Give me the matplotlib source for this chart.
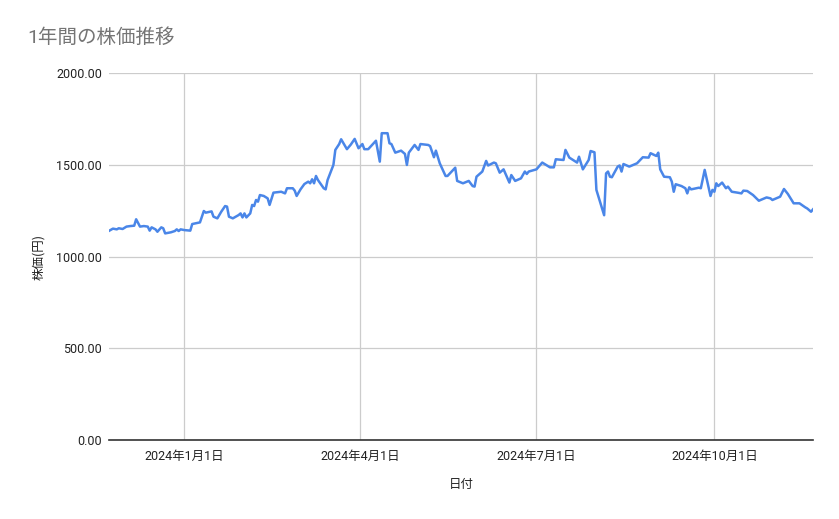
import matplotlib
matplotlib.use('Agg')
import matplotlib.pyplot as plt
import pandas as pd

plt.rcParams['font.family'] = ['Roboto', 'Noto Sans CJK JP', 'DejaVu Sans']

# values
dates = [
    "2023-11-23", "2023-11-25", "2023-11-27", "2023-11-28", "2023-11-30", "2023-12-02",
    "2023-12-04", "2023-12-06", "2023-12-07", "2023-12-09", "2023-12-11", "2023-12-13",
    "2023-12-14", "2023-12-15", "2023-12-17", "2023-12-18", "2023-12-20", "2023-12-21",
    "2023-12-22", "2023-12-25", "2023-12-27", "2023-12-28", "2023-12-29", "2023-12-30",
    "2024-01-01", "2024-01-04", "2024-01-05", "2024-01-09", "2024-01-11", "2024-01-12",
    "2024-01-15", "2024-01-16", "2024-01-18", "2024-01-20", "2024-01-22", "2024-01-23",
    "2024-01-24", "2024-01-26", "2024-01-29", "2024-01-30", "2024-01-31", "2024-02-01",
    "2024-02-02", "2024-02-04", "2024-02-05", "2024-02-06", "2024-02-07", "2024-02-08",
    "2024-02-09", "2024-02-11", "2024-02-13", "2024-02-14", "2024-02-16", "2024-02-20",
    "2024-02-22", "2024-02-23", "2024-02-26", "2024-02-27", "2024-02-28", "2024-03-01",
    "2024-03-03", "2024-03-05", "2024-03-06", "2024-03-07", "2024-03-08", "2024-03-09",
    "2024-03-10", "2024-03-13", "2024-03-14", "2024-03-15", "2024-03-18", "2024-03-19",
    "2024-03-21", "2024-03-22", "2024-03-25", "2024-03-27", "2024-03-29", "2024-03-31",
    "2024-04-02", "2024-04-03", "2024-04-05", "2024-04-09", "2024-04-11", "2024-04-12",
    "2024-04-15", "2024-04-16", "2024-04-17", "2024-04-19", "2024-04-22", "2024-04-24",
    "2024-04-25", "2024-04-26", "2024-04-29", "2024-05-01", "2024-05-02", "2024-05-06",
    "2024-05-07", "2024-05-09", "2024-05-10", "2024-05-12", "2024-05-15", "2024-05-16",
    "2024-05-20", "2024-05-21", "2024-05-24", "2024-05-27", "2024-05-29", "2024-05-30",
    "2024-05-31", "2024-06-03", "2024-06-05", "2024-06-06", "2024-06-09", "2024-06-10",
    "2024-06-12", "2024-06-14", "2024-06-17", "2024-06-18", "2024-06-20", "2024-06-23",
    "2024-06-25", "2024-06-26", "2024-06-27", "2024-07-01", "2024-07-04", "2024-07-08",
    "2024-07-10", "2024-07-11", "2024-07-15", "2024-07-16", "2024-07-18", "2024-07-22",
    "2024-07-23", "2024-07-25", "2024-07-28", "2024-07-29", "2024-07-31", "2024-08-01",
    "2024-08-05", "2024-08-06", "2024-08-07", "2024-08-08", "2024-08-09", "2024-08-12",
    "2024-08-13", "2024-08-14", "2024-08-15", "2024-08-18", "2024-08-22", "2024-08-25",
    "2024-08-28", "2024-08-29", "2024-09-01", "2024-09-02", "2024-09-03", "2024-09-05",
    "2024-09-08", "2024-09-09", "2024-09-10", "2024-09-11", "2024-09-14", "2024-09-16",
    "2024-09-17", "2024-09-18", "2024-09-19", "2024-09-23", "2024-09-24", "2024-09-26",
    "2024-09-29", "2024-09-30", "2024-10-01", "2024-10-02", "2024-10-03", "2024-10-05",
    "2024-10-07", "2024-10-08", "2024-10-10", "2024-10-13", "2024-10-15", "2024-10-16",
    "2024-10-18", "2024-10-21", "2024-10-24", "2024-10-28", "2024-10-30", "2024-10-31",
    "2024-11-04", "2024-11-06", "2024-11-08", "2024-11-11", "2024-11-14", "2024-11-17",
    "2024-11-18", "2024-11-20", "2024-11-21",
]
prices = [
    1140, 1152, 1148, 1154, 1150, 1163,
    1166, 1168, 1203, 1163, 1166, 1163,
    1141, 1159, 1148, 1135, 1159, 1154,
    1126, 1132, 1139, 1148, 1139, 1148,
    1144, 1141, 1177, 1186, 1248, 1239,
    1246, 1217, 1208, 1244, 1275, 1272,
    1217, 1208, 1226, 1235, 1213, 1235,
    1213, 1235, 1281, 1275, 1308, 1299,
    1335, 1330, 1317, 1281, 1348, 1353,
    1344, 1372, 1372, 1359, 1330, 1366,
    1395, 1408, 1399, 1421, 1399, 1439,
    1417, 1372, 1366, 1417, 1499, 1581,
    1613, 1639, 1585, 1610, 1641, 1590,
    1613, 1585, 1585, 1631, 1517, 1672,
    1672, 1617, 1613, 1566, 1577, 1559,
    1499, 1566, 1608, 1581, 1613, 1608,
    1602, 1541, 1577, 1508, 1439, 1439,
    1484, 1412, 1399, 1412, 1384, 1381,
    1435, 1463, 1521, 1496, 1512, 1508,
    1457, 1475, 1403, 1444, 1412, 1426,
    1463, 1450, 1463, 1475, 1512, 1486,
    1486, 1530, 1526, 1581, 1539, 1512,
    1544, 1475, 1526, 1575, 1568, 1363,
    1225, 1453, 1463, 1435, 1432, 1490,
    1496, 1463, 1504, 1490, 1508, 1541,
    1539, 1563, 1548, 1566, 1475, 1435,
    1432, 1408, 1353, 1394, 1384, 1372,
    1344, 1377, 1366, 1375, 1372, 1472,
    1330, 1363, 1353, 1399, 1384, 1403,
    1372, 1381, 1353, 1348, 1344, 1359,
    1357, 1335, 1304, 1322, 1317, 1308,
    1326, 1368, 1341, 1290, 1290, 1268,
    1262, 1244, 1257,
]
x_ticks = ["2024-01-01", "2024-04-01", "2024-07-01", "2024-10-01"]
x_tick_labels = ["2024年1月1日", "2024年4月1日", "2024年7月1日", "2024年10月1日"]
y_ticks = [0, 500, 1000, 1500, 2000]

df = pd.DataFrame({"date": pd.to_datetime(dates), "price": prices})

fig = plt.figure(figsize=(8.39, 5.19), dpi=100)
ax = fig.add_axes([0.130, 0.1522, 0.839, 0.7071])

ax.plot(df["date"], df["price"], color="#4a86e8", linewidth=1.8, zorder=3)

ax.set_xlim(df["date"].iloc[0], df["date"].iloc[-1])
ax.set_ylim(0, 2000)
ax.set_yticks(y_ticks)
ax.set_yticklabels([f"{v:.2f}" for v in y_ticks])
ax.set_xticks(pd.to_datetime(x_ticks))
ax.set_xticklabels(x_tick_labels)

ax.grid(True, color="#cccccc", linewidth=0.9, zorder=0)
for side in ["top", "right", "left"]:
    ax.spines[side].set_visible(False)
ax.spines["bottom"].set_color("#333333")
ax.spines["bottom"].set_linewidth(1.2)
ax.spines["bottom"].set_zorder(4)
ax.tick_params(axis="both", length=0, labelsize=9, colors="#222222")
ax.tick_params(axis="y", pad=5)
ax.tick_params(axis="x", pad=7)

ax.set_xlabel("日付", fontsize=9, color="#222222", labelpad=11)
ax.set_ylabel("株価(円)", fontsize=9, color="#222222", labelpad=8,
              family=['Noto Sans CJK JP', 'DejaVu Sans'])

fig.text(0.032, 0.927, "1年間の株価推移", fontsize=14, color="#757575", ha="left", va="center")

fig.savefig("out.png", dpi=100)
